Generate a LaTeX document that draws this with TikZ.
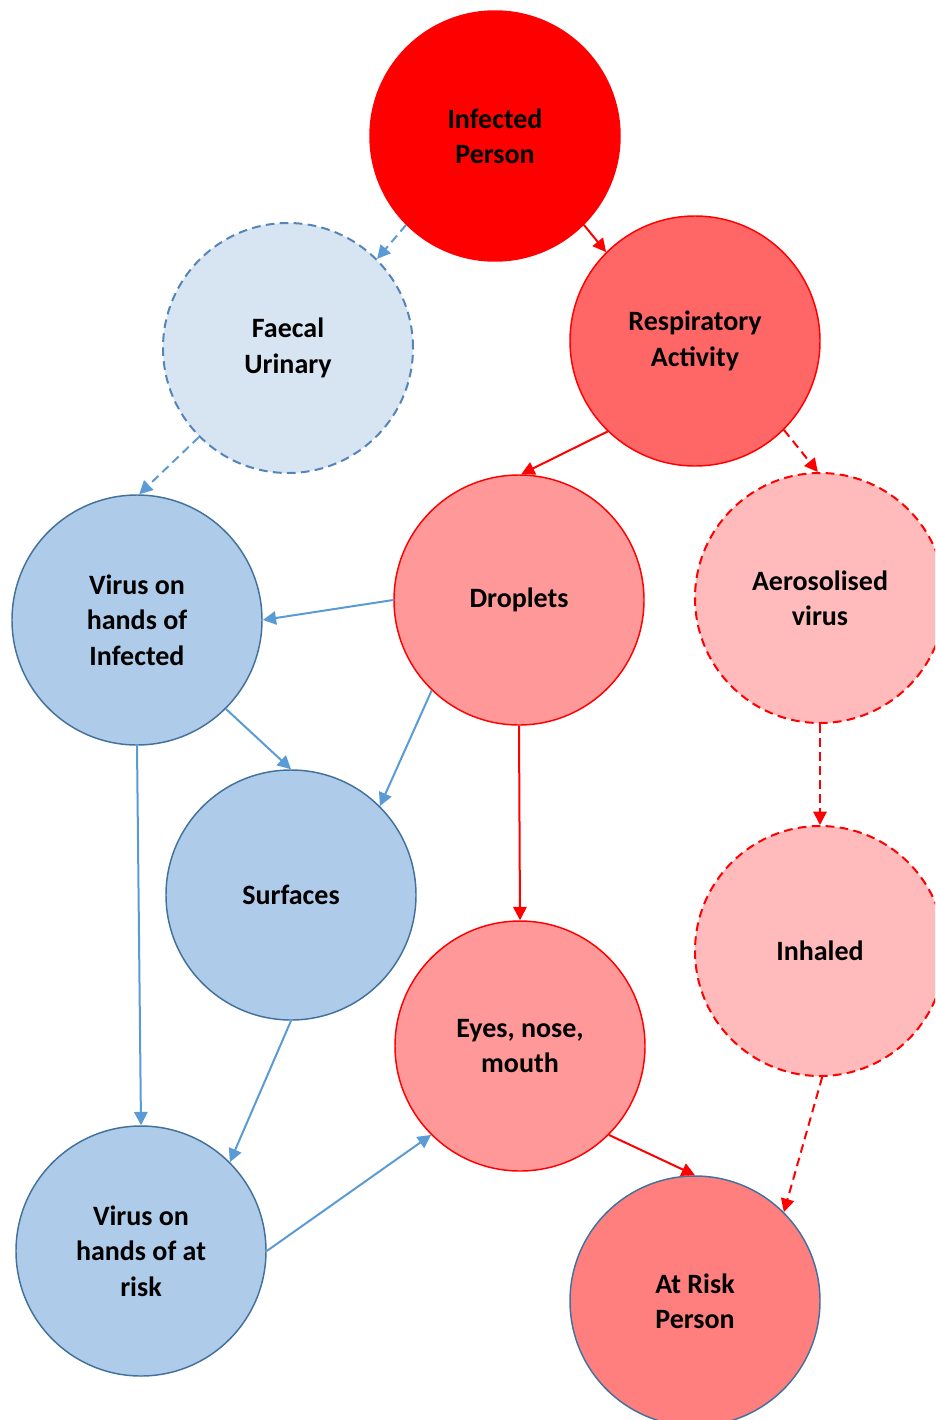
\documentclass[tikz,border=0pt]{standalone}
\usepackage{fontspec}
\setmainfont{Carlito}
\usetikzlibrary{arrows.meta}
\definecolor{cRed}{HTML}{FF0000}
\definecolor{cResp}{HTML}{FF6666}
\definecolor{cDrop}{HTML}{FF9999}
\definecolor{cAero}{HTML}{FFBBBB}
\definecolor{cRisk}{HTML}{FF7F7F}
\definecolor{cBlue}{HTML}{AECCE9}
\definecolor{cBlueLine}{HTML}{41719C}
\definecolor{cFaecal}{HTML}{D7E5F3}
\definecolor{cFaecalLine}{HTML}{5585B8}
\definecolor{cArrowBlue}{HTML}{5B9BD5}
\tikzset{
  bubble/.style={circle, minimum size=187.5pt, inner sep=0pt, align=center,
    font=\fontsize{21pt}{26.5pt}\selectfont\bfseries, line width=1.1pt},
  redbub/.style={bubble, draw=cRed},
  bluebub/.style={bubble, draw=cBlueLine, fill=cBlue},
  redarrow/.style={draw=cRed, line width=1.5pt, -{Triangle[length=10pt,width=10pt]}},
  bluearrow/.style={draw=cArrowBlue, line width=1.5pt, -{Triangle[length=10pt,width=10pt]}},
  dsh/.style={dash pattern=on 6.5pt off 4pt},
  dshc/.style={dash pattern=on 6.5pt off 4pt, line width=1.5pt},
}
\begin{document}
\begin{tikzpicture}[x=0.75pt, y=-0.75pt]
\useasboundingbox (0,0) rectangle (935,1420);
\clip (0,0) rectangle (935,1420);
\node[redbub, fill=cRed] (inf) at (495,136) {Infected\\Person};
\node[bubble, draw=cFaecalLine, fill=cFaecal, dshc] (fae) at (288,348) {Faecal\\Urinary};
\node[redbub, fill=cResp] (resp) at (695,341) {Respiratory\\Activity};
\node[bluebub] (vhi) at (137,620) {Virus on\\hands of\\Infected};
\node[redbub, fill=cDrop] (drop) at (519,600) {Droplets};
\node[redbub, fill=cAero, dshc] (aero) at (820,598) {Aerosolised\\virus};
\node[bluebub] (surf) at (291,895) {Surfaces};
\node[redbub, fill=cAero, dshc] (inh) at (820,951) {Inhaled};
\node[redbub, fill=cDrop] (eyes) at (520,1046) {Eyes, nose,\\mouth};
\node[bluebub] (vhr) at (141,1251) {Virus on\\hands of at\\risk};
\node[bubble, draw=cBlueLine, fill=cRisk] (risk) at (695,1301) {At Risk\\Person};

\draw[bluearrow, dsh] (inf.225) -- (fae.45);
\draw[redarrow] (inf.315) -- (resp.135);
\draw[bluearrow, dsh] (fae.225) -- (vhi.89);
\draw[redarrow] (resp.226) -- (drop.89);
\draw[redarrow, dsh] (resp.315) -- (aero.91);
\draw[bluearrow] (drop.180) -- (vhi.0);
\draw[bluearrow] (drop.226) -- (surf.45);
\draw[bluearrow] (vhi.315) -- (surf.90);
\draw[bluearrow] (vhi.270) -- (vhr.90);
\draw[redarrow] (drop.270) -- (eyes.90);
\draw[redarrow, dsh] (aero.270) -- (inh.90);
\draw[bluearrow] (surf.270) -- (vhr.45);
\draw[bluearrow] (vhr.0) -- (eyes.225);
\draw[redarrow] (eyes.315) -- (risk.90);
\draw[redarrow, dsh] (inh.271) -- (risk.45);
\end{tikzpicture}
\end{document}
